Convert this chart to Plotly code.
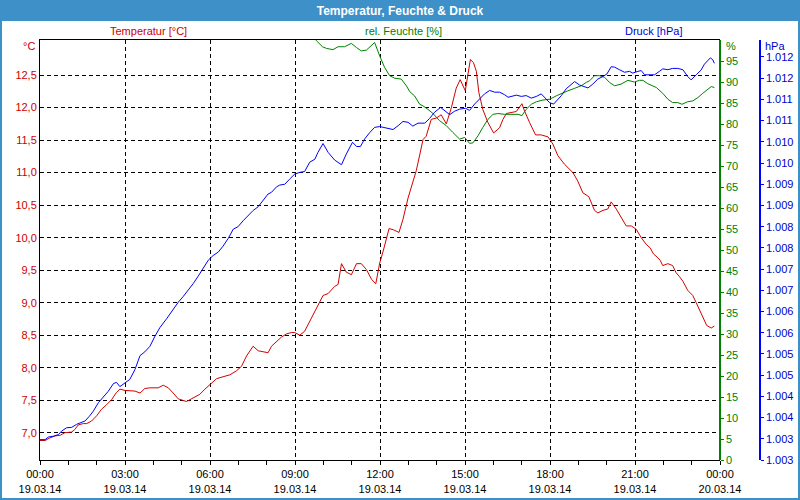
import plotly.graph_objects as go

# ---------------- data ----------------
T_HOURS = [0, 0.18, 0.35, 0.53, 0.71, 0.88, 1.12, 1.23, 1.35, 1.53, 1.65, 1.82, 2.00, 2.17, 2.35, 2.53,
           2.70, 2.82, 3.00, 3.17, 3.35, 3.53, 3.70, 3.88, 4.17, 4.35, 4.53, 4.70, 4.88, 5.17, 5.41, 5.64,
           5.82, 5.99, 6.23, 6.46, 6.70, 6.93, 7.11, 7.29, 7.52, 7.70, 7.87, 8.05, 8.17, 8.35, 8.52, 8.70,
           8.87, 8.99, 9.17, 9.34, 9.52, 9.76, 9.99, 10.17, 10.40, 10.52, 10.64, 10.81, 10.99, 11.17, 11.34,
           11.52, 11.70, 11.85, 11.99, 12.11, 12.32, 12.48, 12.67, 12.81, 12.99, 13.28, 13.52, 13.63, 13.81,
           13.99, 14.16, 14.34, 14.52, 14.69, 14.83, 15.01, 15.19, 15.30, 15.40, 15.49, 15.63, 15.81, 16.01,
           16.22, 16.34, 16.46, 16.63, 16.81, 17.01, 17.10, 17.28, 17.49, 17.69, 17.93, 18.10, 18.28, 18.51,
           18.81, 18.98, 19.16, 19.37, 19.57, 19.69, 19.87, 20.04, 20.16, 20.34, 20.51, 20.69, 20.87, 21.04,
           21.22, 21.39, 21.54, 21.65, 21.81, 21.89, 21.98, 22.16, 22.33, 22.45, 22.57, 22.69, 22.86, 23.04,
           23.16, 23.27, 23.39, 23.53, 23.69, 23.80]
TEMP = [6.88, 6.88, 6.92, 6.95, 6.96, 7.00, 7.01, 7.05, 7.12, 7.14, 7.14, 7.18, 7.26, 7.36, 7.43, 7.51,
        7.62, 7.67, 7.65, 7.64, 7.64, 7.61, 7.68, 7.69, 7.69, 7.73, 7.69, 7.61, 7.52, 7.48, 7.54, 7.59,
        7.67, 7.74, 7.83, 7.86, 7.89, 7.95, 8.02, 8.18, 8.33, 8.26, 8.24, 8.23, 8.33, 8.41, 8.47, 8.52,
        8.54, 8.54, 8.50, 8.56, 8.71, 8.92, 9.11, 9.14, 9.25, 9.28, 9.60, 9.47, 9.43, 9.60, 9.60,
        9.51, 9.36, 9.29, 9.61, 9.79, 10.14, 10.12, 10.08, 10.28, 10.61, 11.03, 11.51, 11.56, 11.82,
        11.84, 11.89, 11.75, 12.00, 12.30, 12.43, 12.26, 12.74, 12.69, 12.56, 12.23, 11.97, 11.77, 11.61,
        11.69, 11.82, 11.91, 11.93, 11.94, 12.06, 11.95, 11.77, 11.58, 11.58, 11.55, 11.44, 11.26, 11.13,
        11.00, 10.87, 10.69, 10.63, 10.42, 10.38, 10.42, 10.44, 10.55, 10.44, 10.31, 10.18, 10.18, 10.13,
        10.00, 9.90, 9.84, 9.75, 9.69, 9.65, 9.57, 9.60, 9.57, 9.46, 9.40, 9.33, 9.19, 9.11,
        9.00, 8.89, 8.78, 8.65, 8.61, 8.64]

H_HOURS = [9.64, 9.76, 9.97, 10.11, 10.34, 10.52, 10.75, 10.99, 11.17, 11.34, 11.52, 11.70, 11.81, 11.99,
           12.16, 12.34, 12.52, 12.75, 12.93, 13.05, 13.22, 13.40, 13.52, 13.69, 13.87, 14.10, 14.34, 14.57,
           14.81, 14.99, 15.16, 15.28, 15.46, 15.63, 15.81, 15.99, 16.16, 16.40, 16.69, 16.87, 17.01, 17.16,
           17.34, 17.52, 17.75, 17.99, 18.22, 18.40, 18.63, 18.87, 19.10, 19.28, 19.40, 19.57, 19.75, 19.93,
           20.10, 20.28, 20.51, 20.75, 20.98, 21.16, 21.28, 21.45, 21.75, 21.98, 22.16, 22.33, 22.51, 22.66,
           22.86, 23.04, 23.22, 23.39, 23.57, 23.69, 23.80]
HUM = [100.8, 99.8, 98.4, 98.0, 97.7, 98.4, 98.4, 99.2, 98.2, 97.4, 97.6, 98.6, 99.4, 96.2,
       93.5, 91.5, 90.9, 90.7, 89.1, 87.7, 86.7, 84.7, 84.3, 83.5, 82.5, 80.8, 79.6, 78.0,
       76.4, 76.8, 75.4, 75.5, 77.2, 79.2, 81.1, 82.3, 82.5, 82.3, 82.3, 82.3, 82.0, 83.5,
       84.7, 85.3, 85.7, 85.9, 86.7, 87.3, 87.9, 88.5, 89.1, 89.9, 90.3, 91.5, 91.5, 91.1,
       89.9, 89.1, 89.5, 90.4, 90.0, 90.4, 90.4, 89.6, 88.7, 87.3, 85.9, 85.1, 85.1, 84.7,
       85.3, 85.5, 86.3, 87.3, 88.3, 88.9, 88.7]

P_HOURS = [0, 0.18, 0.29, 0.47, 0.65, 0.76, 0.94, 1.12, 1.29, 1.47, 1.59, 1.74, 1.88, 2.06, 2.23, 2.41,
           2.59, 2.70, 2.82, 3.00, 3.17, 3.35, 3.53, 3.70, 3.88, 4.06, 4.23, 4.47, 4.70, 4.88, 5.05, 5.23,
           5.41, 5.58, 5.76, 5.94, 6.11, 6.29, 6.46, 6.64, 6.82, 6.99, 7.17, 7.35, 7.52, 7.70, 7.87, 8.05,
           8.17, 8.35, 8.46, 8.64, 8.81, 8.99, 9.17, 9.34, 9.52, 9.70, 9.81, 9.99, 10.17, 10.40, 10.64,
           10.81, 11.03, 11.17, 11.31, 11.46, 11.64, 11.81, 11.99, 12.22, 12.46, 12.64, 12.81, 12.99, 13.16,
           13.34, 13.58, 13.75, 13.93, 14.14, 14.28, 14.46, 14.63, 14.81, 15.02, 15.16, 15.34, 15.51, 15.69,
           15.87, 16.05, 16.22, 16.40, 16.52, 16.69, 16.81, 16.99, 17.16, 17.34, 17.52, 17.69, 17.87, 17.99,
           18.13, 18.22, 18.40, 18.57, 18.75, 18.87, 19.04, 19.22, 19.34, 19.51, 19.69, 19.87, 20.01, 20.16,
           20.28, 20.45, 20.63, 20.81, 20.92, 21.10, 21.22, 21.34, 21.51, 21.69, 21.86, 21.98, 22.16, 22.33,
           22.51, 22.69, 22.86, 22.98, 23.16, 23.33, 23.45, 23.57, 23.66, 23.75, 23.80]
PRESS = [1003.48, 1003.48, 1003.54, 1003.56, 1003.60, 1003.68, 1003.76, 1003.77, 1003.84, 1003.89, 1003.92,
         1004.03, 1004.15, 1004.35, 1004.48, 1004.62, 1004.80, 1004.83, 1004.73, 1004.82, 1004.90, 1005.13,
         1005.46, 1005.55, 1005.68, 1005.92, 1006.12, 1006.33, 1006.55, 1006.72, 1006.85, 1007.00, 1007.16,
         1007.33, 1007.53, 1007.71, 1007.82, 1007.90, 1008.04, 1008.22, 1008.44, 1008.50, 1008.64, 1008.76,
         1008.88, 1008.97, 1009.11, 1009.27, 1009.31, 1009.44, 1009.48, 1009.50, 1009.62, 1009.74, 1009.78,
         1009.80, 1010.02, 1010.09, 1010.25, 1010.46, 1010.25, 1010.07, 1009.96, 1010.21, 1010.49, 1010.39,
         1010.39, 1010.57, 1010.72, 1010.84, 1010.86, 1010.83, 1010.79, 1010.88, 1010.98, 1010.96, 1010.87,
         1010.94, 1010.94, 1011.05, 1011.20, 1011.31, 1011.24, 1011.14, 1011.22, 1011.27, 1011.29, 1011.24,
         1011.39, 1011.50, 1011.63, 1011.71, 1011.67, 1011.67, 1011.61, 1011.55, 1011.59, 1011.60, 1011.57,
         1011.59, 1011.53, 1011.57, 1011.63, 1011.51, 1011.42, 1011.39, 1011.45, 1011.59, 1011.75, 1011.86,
         1011.92, 1011.84, 1011.79, 1011.77, 1011.86, 1011.98, 1012.04, 1012.10, 1012.27, 1012.26, 1012.20,
         1012.14, 1012.16, 1012.12, 1012.16, 1012.18, 1012.08, 1012.08, 1012.08, 1012.16, 1012.22, 1012.20,
         1012.23, 1012.23, 1012.20, 1012.04, 1011.96, 1012.08, 1012.19, 1012.33, 1012.43, 1012.48, 1012.43,
         1012.35]

X_TICKS = [0, 3, 6, 9, 12, 15, 18, 21, 24]
X_LABELS = ["00:00<br>19.03.14", "03:00<br>19.03.14", "06:00<br>19.03.14", "09:00<br>19.03.14",
            "12:00<br>19.03.14", "15:00<br>19.03.14", "18:00<br>19.03.14", "21:00<br>19.03.14",
            "00:00<br>20.03.14"]
TEMP_TICKS = [7.0, 7.5, 8.0, 8.5, 9.0, 9.5, 10.0, 10.5, 11.0, 11.5, 12.0, 12.5]
HUM_TICKS = [0, 5, 10, 15, 20, 25, 30, 35, 40, 45, 50, 55, 60, 65, 70, 75, 80, 85, 90, 95]
PRESS_TICKS = [1003.0, 1003.5, 1004.0, 1004.5, 1005.0, 1005.5, 1006.0, 1006.5, 1007.0, 1007.5,
               1008.0, 1008.5, 1009.0, 1009.5, 1010.0, 1010.5, 1011.0, 1011.5, 1012.0, 1012.5]
PRESS_LABELS = ["1.003", "1.003", "1.004", "1.004", "1.005", "1.005", "1.006", "1.006", "1.007", "1.007",
                "1.008", "1.008", "1.009", "1.009", "1.010", "1.010", "1.011", "1.011", "1.012", "1.012"]

TITLE = "Temperatur, Feuchte & Druck"
SERIES_NAMES = ["Temperatur [°C]", "rel. Feuchte [%]", "Druck [hPa]"]
UNITS = ["°C", "%", "hPa"]

# ---------------- style ----------------
RED, GREEN, BLUE = "#d40000", "#008000", "#0000ff"
RED_TXT, GREEN_TXT, BLUE_TXT = "#cc0000", "#008000", "#0000cc"
FRAME = "#3d90c8"
FONT = "Liberation Sans"

W, H = 800, 500
ML, MR, MT, MB = 40, 40, 40, 40
PW, PH = W - ML - MR, H - MT - MB
XDOM = 680 / PW


def px(x):
    return (x - ML) / PW


def py(y):
    return 1 - (y - MT) / PH


fig = go.Figure()
fig.add_trace(go.Scatter(x=T_HOURS, y=TEMP, mode="lines", line=dict(color=RED, width=1),
                         name=SERIES_NAMES[0], yaxis="y"))
fig.add_trace(go.Scatter(x=H_HOURS, y=HUM, mode="lines", line=dict(color=GREEN, width=1),
                         name=SERIES_NAMES[1], yaxis="y2"))
fig.add_trace(go.Scatter(x=P_HOURS, y=PRESS, mode="lines", line=dict(color=BLUE, width=1),
                         name=SERIES_NAMES[2], yaxis="y3"))

fig.update_layout(
    width=W, height=H,
    margin=dict(l=ML, r=MR, t=MT, b=MB, pad=0, autoexpand=False),
    paper_bgcolor="white", plot_bgcolor="white",
    separators=",.",
    showlegend=False,
    font=dict(family=FONT, size=11, color="black"),
    title=dict(text="<b>" + TITLE + "</b>", x=0.5, xref="paper", xanchor="center",
               y=1 - 10.5 / H, yref="container", yanchor="middle",
               font=dict(family=FONT, size=12, color="white")),
    xaxis=dict(domain=[0, XDOM], range=[0, 24], tickvals=X_TICKS, ticktext=X_LABELS,
               automargin=False,
               showgrid=True, gridcolor="black", gridwidth=1, griddash="4px,3px",
               showline=True, linecolor="black", linewidth=1, mirror=True,
               ticks="outside", ticklen=4, tickcolor="black",
               minor=dict(dtick=1, tick0=0, ticks="outside", ticklen=4, tickcolor="black", showgrid=False),
               zeroline=False, tickfont=dict(size=11, color="black")),
    yaxis=dict(range=[6.58, 13.04], tickvals=TEMP_TICKS, tickformat=".1f", automargin=False,
               showgrid=True, gridcolor="black", gridwidth=1, griddash="4px,3px",
               showline=True, linecolor="black", linewidth=1, ticks="",
               zeroline=False, tickfont=dict(size=11, color=RED_TXT)),
    yaxis2=dict(range=[0, 100], tickvals=HUM_TICKS, overlaying="y", anchor="free", position=XDOM,
                side="right", showgrid=False, showline=True, linecolor=GREEN, linewidth=1.5,
                automargin=False,
                ticks="outside", ticklen=3, tickcolor=GREEN, zeroline=False,
                tickfont=dict(size=11, color=GREEN_TXT)),
    yaxis3=dict(range=[1003.0, 1012.9], tickvals=PRESS_TICKS, ticktext=PRESS_LABELS,
                overlaying="y", anchor="free", position=1.0, automargin=False,
                side="right", showgrid=False, showline=True, linecolor=BLUE, linewidth=1.5,
                ticks="outside", ticklen=3, tickcolor=BLUE, zeroline=False,
                tickfont=dict(size=11, color=BLUE_TXT)),
)

# frame, title bar
fig.add_shape(type="rect", xref="paper", yref="paper", x0=px(0), x1=px(W), y0=py(0), y1=py(21),
              fillcolor=FRAME, line=dict(width=0), layer="below")
fig.add_shape(type="rect", xref="paper", yref="paper", x0=px(1), x1=px(W - 1), y0=py(1), y1=py(H - 1),
              fillcolor="rgba(0,0,0,0)", line=dict(color=FRAME, width=2))

# series labels above the plot
for name, xc, col in zip(SERIES_NAMES, [148, 403, 653], [RED_TXT, GREEN_TXT, BLUE_TXT]):
    fig.add_annotation(text=name, x=px(xc), y=py(31), xref="paper", yref="paper",
                       xanchor="center", yanchor="middle", showarrow=False,
                       font=dict(size=11, color=col, family=FONT))

# unit labels at top of axes
fig.add_annotation(text=UNITS[0], x=px(37), y=py(46), xref="paper", yref="paper", xanchor="right",
                   yanchor="middle", showarrow=False, font=dict(size=11, color=RED_TXT, family=FONT))
fig.add_annotation(text=UNITS[1], x=px(724), y=py(46), xref="paper", yref="paper", xanchor="left",
                   yanchor="middle", showarrow=False, font=dict(size=11, color=GREEN_TXT, family=FONT))
fig.add_annotation(text=UNITS[2], x=px(763), y=py(46), xref="paper", yref="paper", xanchor="left",
                   yanchor="middle", showarrow=False, font=dict(size=11, color=BLUE_TXT, family=FONT))

fig.write_html("out.html")
